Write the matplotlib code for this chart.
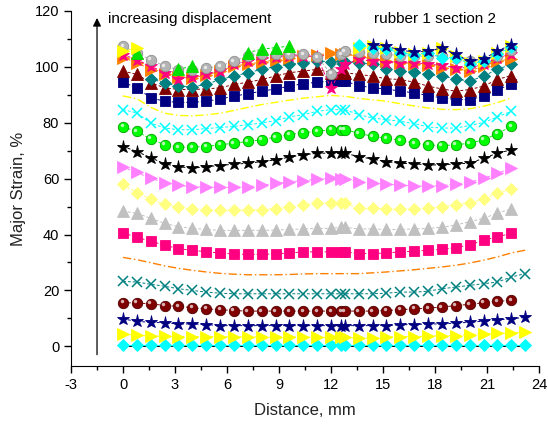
import numpy as np
import matplotlib
matplotlib.use("Agg")
import matplotlib.pyplot as plt
from matplotlib.transforms import offset_copy

plt.rcParams['font.family'] = ['Liberation Sans', 'DejaVu Sans']

nan = np.nan
distance = [0.0, 0.8, 1.6, 2.4, 3.2, 4.0, 4.8, 5.6, 6.4, 7.2, 8.0, 8.8, 9.6, 10.4, 11.2,
            12.0, 12.6, 12.8, 13.6, 14.4, 15.2, 16.0, 16.8, 17.6, 18.4, 19.2, 20.0, 20.8,
            21.6, 22.4, 23.2]

s01_black = [0.0] * 31
s02_green = [0.3] * 31
s03_cyan = [0.6] * 31
s04_yellow = [4.4, 3.9, 3.7, 3.6, 3.5, 3.5, 3.5, 3.4, 3.4, 3.4, 3.3, 3.3, 3.3, 3.3, 3.2, 3.2, 3.2, 3.2,
              2.9, 2.9, 3.2, 3.5, 3.5, 3.6, 3.8, 3.8, 4.2, 4.4, 4.7, 4.7, 5.0]
s05_navy = [9.8, 8.9, 8.6, 8.4, 8.0, 8.0, 7.8, 7.4, 7.4, 7.4, 7.4, 7.4, 7.4, 7.4, 7.4, 7.4, 7.4, 7.4,
            7.4, 7.4, 7.4, 7.7, 7.8, 8.0, 8.0, 8.3, 8.6, 9.0, 9.5, 9.8, 10.4]
s06_wine = [15.6, 15.5, 15.2, 14.6, 14.3, 13.8, 13.4, 13.1, 12.8, 12.6, 12.6, 12.6, 12.6, 12.6, 12.6,
            12.6, 12.6, 12.6, 12.6, 12.6, 12.8, 13.1, 13.4, 13.7, 14.0, 14.6, 15.0, 15.6, 16.1, 16.4, nan]
s07_darkcyan = [23.2, 23.0, 22.2, 21.5, 20.6, 20.0, 19.4, 19.0, 18.8, 18.8, 18.8, 18.8, 18.8, 18.8, 18.8,
                18.8, 18.8, 18.8, 18.8, 18.8, 19.0, 19.4, 19.4, 19.7, 20.6, 21.2, 21.8, 22.4, 23.0, 24.8, 26.0]
s08_orange = [31.8, 31.0, 29.9, 28.8, 27.9, 27.2, 26.6, 26.1, 25.8, 25.6, 25.6, 25.6, 25.7, 25.9, 26.0,
              26.0, 26.0, 26.0, 26.0, 26.3, 26.6, 27.0, 27.4, 27.9, 28.4, 29.0, 29.8, 30.8, 32.0, 33.4, 34.4]
s09_pink = [40.6, 39.0, 37.6, 36.2, 34.9, 34.4, 33.8, 33.4, 33.0, 32.9, 32.9, 33.1, 33.4, 33.8, 33.8,
            33.8, 33.8, 33.8, 33.2, 33.2, 33.4, 33.8, 34.0, 34.4, 34.7, 35.3, 36.3, 37.9, 39.2, 40.4, nan]
s10_gray = [48.4, 47.6, 45.8, 44.0, 42.8, 42.2, 41.8, 41.5, 41.5, 41.5, 41.5, 41.6, 41.8, 42.0, 42.2,
            42.2, 42.6, 42.6, 42.0, 42.0, 41.8, 41.8, 42.0, 42.2, 42.6, 43.4, 44.6, 45.8, 47.6, 49.2, nan]
s11_lightyellow = [58.0, 55.0, 52.6, 50.9, 49.7, 49.0, 48.7, 48.7, 48.7, 48.7, 48.9, 49.3, 49.9, 50.6, 51.2,
                   51.2, 51.2, 51.2, 49.4, 49.4, 49.1, 49.1, 49.1, 49.4, 50.0, 50.6, 51.4, 52.7, 54.8, 56.3, nan]
s12_violet = [64.1, 62.2, 60.1, 58.6, 57.6, 57.1, 56.9, 56.9, 56.9, 57.1, 57.6, 58.3, 58.9, 59.3, 59.8,
              60.1, 59.8, 59.8, 58.9, 58.3, 58.0, 57.7, 57.4, 57.4, 57.5, 58.1, 58.7, 60.1, 61.9, 63.7, nan]
s13_black = [71.5, 69.7, 67.5, 65.3, 64.3, 63.7, 64.3, 64.7, 65.2, 65.5, 66.1, 66.7, 67.7, 68.5, 69.1,
             69.1, 69.1, 69.1, 67.9, 67.0, 66.1, 65.5, 65.3, 64.9, 64.9, 65.3, 65.5, 67.3, 69.1, 70.3, nan]
s14_green = [78.5, 76.9, 74.2, 72.1, 71.3, 71.3, 71.5, 72.1, 72.7, 73.3, 73.9, 74.9, 75.7, 76.5, 76.9,
             77.5, 77.5, 77.5, 76.3, 75.1, 74.5, 73.7, 72.7, 72.1, 71.8, 72.1, 72.7, 73.9, 76.1, 78.7, nan]
s15_cyan = [84.7, 83.5, 79.9, 78.1, 77.5, 77.5, 77.9, 78.3, 78.7, 79.3, 79.9, 80.8, 82.1, 82.9, 84.1,
            84.7, 84.7, 84.7, 82.9, 81.7, 81.1, 80.5, 79.7, 78.5, 78.1, 78.1, 79.0, 80.1, 82.1, 84.1, nan]
s16_yellow = [89.6, 88.6, 85.5, 83.4, 82.6, 82.5, 82.8, 83.4, 84.4, 85.5, 86.5, 87.3, 88.1, 88.8, 89.3,
              89.8, 89.5, 89.5, 88.7, 88.2, 87.7, 86.8, 86.0, 85.3, 84.8, 84.7, 85.0, 85.9, 87.2, 88.9, nan]
s17_navy = [94.5, 92.5, 88.9, 87.7, 87.3, 87.3, 87.7, 88.5, 89.5, 90.4, 91.3, 92.1, 93.1, 94.0, 94.5,
            94.9, 94.9, 94.9, 93.3, 92.5, 92.1, 91.3, 90.7, 89.7, 88.9, 88.3, 88.3, 89.5, 91.9, 93.7, nan]
s18_wine = [98.5, 97.3, 94.3, 92.5, 91.9, 91.9, 92.1, 92.5, 93.7, 94.5, 95.5, 96.7, 97.9, 98.5, 99.1,
            97.9, 97.9, 97.9, 97.3, 96.7, 95.7, 95.5, 94.5, 93.1, 92.1, 91.3, 91.9, 93.1, 95.5, 96.9, nan]
s19_darkcyan = [nan, nan, 95.7, 94.3, 93.1, 92.9, 93.7, 95.5, 96.7, 97.9, 99.1, 100.1, 100.9, 101.5, 102.0,
                101.9, 101.9, 101.9, 101.5, 100.9, 99.3, 98.5, 98.1, 97.3, 96.7, 95.7, 94.9, 96.7, 99.1, 100.9, nan]
s20_orange = [103.3, 101.5, 99.0, 97.5, 96.5, 96.1, 97.0, 98.5, 100.3, 101.0, 101.7, 102.5, 103.3, 103.9, 104.1,
              105.1, 104.5, 104.5, 103.9, 102.7, 102.0, 101.5, 100.9, 100.5, 99.7, 99.3, 98.5, 100.3, 102.0, 102.9, nan]
s21_pink = [104.4, 102.5, 100.3, 97.9, 95.5, 96.5, 97.5, 98.5, 100.9, 102.0, 102.8, 103.4, 103.9, 104.0, 103.5,
            92.3, 99.1, 101.0, 102.7, 102.0, 101.5, 101.5, 101.5, 101.0, 100.5, 99.7, 99.7, 100.9, 103.3, 104.5, nan]
s22_gray = [107.4, 105.0, 102.5, 100.3, 99.0, 98.7, 99.5, 100.3, 102.0, 104.0, 104.5, 104.5, 104.5, 104.5, 103.5,
            97.6, 104.5, 105.6, 105.3, 105.0, 104.5, 104.0, 103.8, 103.8, 104.0, 103.0, 102.0, 102.0, 104.0, 106.0, nan]
s23_green = [nan, 105.1, nan, nan, 99.1, 100.3, nan, nan, nan, 105.1, 106.3, 106.9, 107.4, nan, nan,
             nan, nan, nan, nan, nan, nan, nan, nan, nan, nan, nan, nan, nan, nan, nan, nan]
s24_yellow = [105.5, 106.8, nan, nan, nan, nan, nan, nan, nan, nan, nan, nan, nan, nan, nan,
              nan, nan, nan, 106.8, 107.3, 106.7, 105.3, 104.6, 104.9, 106.6, 103.8, 101.3, 102.2, 104.9, 107.3, nan]
s25_cyan = [nan, nan, nan, nan, nan, nan, nan, nan, nan, nan, nan, nan, nan, nan, nan,
            nan, nan, nan, 108.0, 106.8, 106.4, 105.0, 104.3, 105.0, 103.3, 103.3, 101.0, 102.0, 104.6, 107.0, nan]
s26_navy = [nan, nan, nan, nan, nan, nan, nan, nan, nan, nan, nan, nan, nan, nan, nan,
            nan, nan, nan, nan, 108.0, 107.4, 106.0, 105.3, 105.6, 106.8, 104.5, 102.0, 102.9, 105.6, 108.0, nan]

x_ticks = [-3, 0, 3, 6, 9, 12, 15, 18, 21, 24]
y_ticks = [0, 20, 40, 60, 80, 100, 120]

# (data, color, marker, markersize, linestyle, ball)
series = [
    (s01_black, '#000000', 's', 2.5, '-', False),
    (s02_green, '#00C000', 'o', 2.5, ':', False),
    (s03_cyan, '#00FFFF', 'D', 6, (0, (3, 2)), False),
    (s04_yellow, '#FFFF00', '>', 8, (0, (3, 2)), False),
    (s05_navy, '#000080', '*', 9.5, (0, (3, 2)), False),
    (s06_wine, '#800000', 'o', 7.5, (0, (3, 2)), True),
    (s07_darkcyan, '#008080', 'x', 7.5, (0, (3, 2)), False),
    (s08_orange, '#FF8000', None, 0, (0, (6, 2, 1, 2)), False),
    (s09_pink, '#FF0080', 's', 6.5, (0, (3, 2)), False),
    (s10_gray, '#C0C0C0', '^', 8, (0, (3, 2)), False),
    (s11_lightyellow, '#FFFF80', 'D', 6.5, (0, (3, 2)), False),
    (s12_violet, '#FF80FF', '>', 8, (0, (3, 2)), False),
    (s13_black, '#000000', '*', 9.5, (0, (3, 2)), False),
    (s14_green, '#00FF00', 'o', 7.5, (0, (3, 2)), True),
    (s15_cyan, '#00FFFF', 'x', 7.5, (0, (3, 2)), False),
    (s16_yellow, '#FFFF00', None, 0, (0, (6, 2, 1, 2)), False),
    (s17_navy, '#000080', 's', 6.5, (0, (3, 2)), False),
    (s18_wine, '#800000', '^', 8, (0, (3, 2)), False),
    (s19_darkcyan, '#008080', 'D', 6.5, (0, (3, 2)), False),
    (s20_orange, '#FF8000', '>', 8, (0, (3, 2)), False),
    (s21_pink, '#FF0080', '*', 9.5, (0, (3, 2)), False),
    (s22_gray, '#B4B4B4', 'o', 7.5, (0, (3, 2)), True),
    (s23_green, '#00E000', '^', 8, (0, (3, 2)), False),
    (s24_yellow, '#FFFF00', '>', 8, (0, (3, 2)), False),
    (s25_cyan, '#00FFFF', 'D', 6.5, (0, (3, 2)), False),
    (s26_navy, '#000080', '*', 9.5, (0, (3, 2)), False),
]

fig = plt.figure(figsize=(5.48, 4.34), dpi=100)
ax = fig.add_axes([0.1296, 0.157, 0.854, 0.8177])

x = np.array(distance)
for i, (vals, col, mk, ms, ls, ball) in enumerate(series):
    y = np.array(vals, dtype=float)
    z = 2 + i * 0.1
    if mk is None:
        ax.plot(x, y, color=col, lw=1.0, ls=ls, zorder=z)
        continue
    lw_line = 0.7
    if mk == 'x':
        ax.plot(x, y, color=col, lw=lw_line, ls=ls, marker=mk, ms=ms, mew=1.1, zorder=z)
    else:
        edge = col
        if ball:
            edge = {'#800000': '#500000', '#00FF00': '#00A000', '#B4B4B4': '#909090'}.get(col, col)
        ax.plot(x, y, color=col, lw=lw_line, ls=ls, marker=mk, ms=ms, mfc=col, mec=edge,
                mew=0.6, zorder=z)
    if ball:
        tr = offset_copy(ax.transData, fig=fig, x=-1.5, y=1.5, units='dots')
        ax.plot(x, y, ls='none', marker='o', ms=2.5, mfc='white', mec='none', alpha=0.7,
                transform=tr, zorder=z + 0.01)

# arrow
ax.annotate('', xy=(-1.5, 117.5), xytext=(-1.5, -3), xycoords='data',
            arrowprops=dict(arrowstyle='-|>', color='black', lw=0.9,
                            mutation_scale=12, shrinkA=0, shrinkB=0))
ax.text(-0.85, 117, 'increasing displacement', fontsize=11, va='center', ha='left')
ax.text(14.5, 117, 'rubber 1 section 2', fontsize=11, va='center', ha='left')

ax.set_xlim(-3, 24)
ax.set_ylim(-7, 120)
ax.set_xticks(x_ticks)
ax.set_xticklabels([str(t) for t in x_ticks])
ax.set_yticks(y_ticks)
ax.set_yticklabels([str(t) for t in y_ticks])
ax.set_xticks(np.arange(-3, 24.1, 1.5), minor=True)
ax.set_yticks(np.arange(0, 120.1, 10), minor=True)
ax.spines['top'].set_visible(False)
ax.spines['right'].set_visible(False)
ax.tick_params(which='major', direction='out', length=5, width=1, labelsize=10.5, color='black')
ax.tick_params(which='minor', direction='out', length=3, width=1)
ax.set_xlabel('Distance, mm', fontsize=12, labelpad=8, color='#222222')
ax.set_ylabel('Major Strain, %', fontsize=12, labelpad=6, color='#222222')

fig.savefig('out.png', dpi=100)
